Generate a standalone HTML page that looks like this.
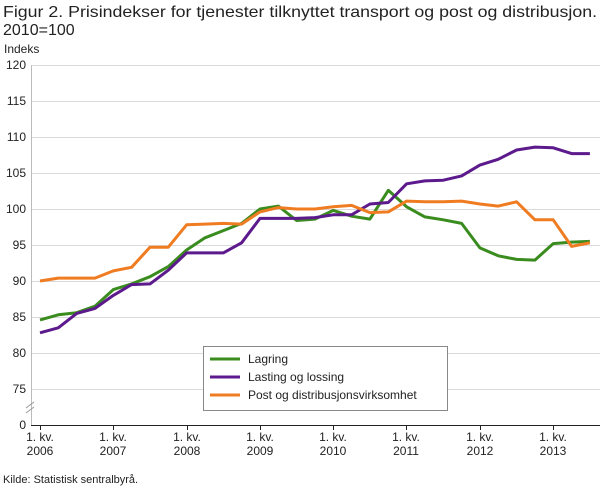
<!DOCTYPE html>
<html><head><meta charset="utf-8"><style>
body{margin:0;background:#fff;width:610px;height:488px;overflow:hidden;font-family:"Liberation Sans",sans-serif;}
</style></head><body>
<svg width="610" height="488" xmlns="http://www.w3.org/2000/svg" font-family="Liberation Sans, sans-serif">
<text x="3" y="17" font-size="16" fill="#222" textLength="594" lengthAdjust="spacingAndGlyphs">Figur 2. Prisindekser for tjenester tilknyttet transport og post og distribusjon.</text>
<text x="3" y="35" font-size="16" fill="#222">2010=100</text>
<text x="4" y="53" font-size="12" fill="#222">Indeks</text>
<g stroke="#d9d9d9" stroke-width="1">
<line x1="31" x2="600" y1="65.5" y2="65.5"/><line x1="31" x2="600" y1="101.5" y2="101.5"/>
<line x1="31" x2="600" y1="137.5" y2="137.5"/><line x1="31" x2="600" y1="173.5" y2="173.5"/>
<line x1="31" x2="600" y1="209.5" y2="209.5"/><line x1="31" x2="600" y1="245.5" y2="245.5"/>
<line x1="31" x2="600" y1="281.5" y2="281.5"/><line x1="31" x2="600" y1="317.5" y2="317.5"/>
<line x1="31" x2="600" y1="353.5" y2="353.5"/><line x1="31" x2="600" y1="389.5" y2="389.5"/>
</g>
<line x1="31" x2="600" y1="425.5" y2="425.5" stroke="#222"/>
<line x1="31.5" x2="31.5" y1="65" y2="425" stroke="#bbb"/>
<g stroke="#222"><line x1="40.5" x2="40.5" y1="425" y2="430"/><line x1="113.5" x2="113.5" y1="425" y2="430"/><line x1="187.5" x2="187.5" y1="425" y2="430"/><line x1="260.5" x2="260.5" y1="425" y2="430"/><line x1="333.5" x2="333.5" y1="425" y2="430"/><line x1="406.5" x2="406.5" y1="425" y2="430"/><line x1="480.5" x2="480.5" y1="425" y2="430"/><line x1="553.5" x2="553.5" y1="425" y2="430"/></g>
<g stroke="#999" stroke-width="1"><line x1="26" y1="408" x2="34" y2="402"/><line x1="26" y1="413" x2="34" y2="407"/></g>
<g font-size="12" fill="#222" text-anchor="end">
<text x="26" y="69">120</text><text x="26" y="105">115</text><text x="26" y="141">110</text><text x="26" y="177">105</text><text x="26" y="213">100</text><text x="26" y="249">95</text><text x="26" y="285">90</text><text x="26" y="321">85</text><text x="26" y="357">80</text><text x="26" y="393">75</text><text x="26" y="429">0</text>
</g>
<g font-size="12" fill="#222" text-anchor="middle">
<text x="40" y="441">1. kv.</text><text x="40" y="455">2006</text>
<text x="113" y="441">1. kv.</text><text x="113" y="455">2007</text>
<text x="187" y="441">1. kv.</text><text x="187" y="455">2008</text>
<text x="260" y="441">1. kv.</text><text x="260" y="455">2009</text>
<text x="333" y="441">1. kv.</text><text x="333" y="455">2010</text>
<text x="406" y="441">1. kv.</text><text x="406" y="455">2011</text>
<text x="480" y="441">1. kv.</text><text x="480" y="455">2012</text>
<text x="553" y="441">1. kv.</text><text x="553" y="455">2013</text>
</g>
<text x="3" y="483" font-size="11" fill="#222">Kilde: Statistisk sentralbyrå.</text>
<g id="lines" fill="none" stroke-width="3" stroke-linejoin="round"></g>
<rect x="203.5" y="346.5" width="244" height="64" fill="#fff" stroke="#888"/>
<line x1="210" x2="240" y1="359" y2="359" stroke="#3a8c1e" stroke-width="3"/>
<line x1="210" x2="240" y1="377" y2="377" stroke="#5c1a8c" stroke-width="3"/>
<line x1="210" x2="240" y1="395" y2="395" stroke="#f07c22" stroke-width="3"/>
<g font-size="12" fill="#222"><text x="248" y="363">Lagring</text><text x="248" y="381">Lasting og lossing</text><text x="248" y="399">Post og distribusjonsvirksomhet</text></g>
</svg>
<script>
var d={"#3a8c1e":[84.6,85.3,85.6,86.5,88.8,89.6,90.6,92.0,94.3,96.0,97.0,98.0,100.0,100.4,98.4,98.6,99.8,99.0,98.6,102.6,100.3,98.9,98.5,98.0,94.6,93.5,93.0,92.9,95.2,95.4,95.5],
"#5c1a8c":[82.8,83.5,85.5,86.2,88.0,89.5,89.6,91.5,93.9,93.9,93.9,95.3,98.7,98.7,98.7,98.8,99.2,99.2,100.7,100.9,103.5,103.9,104.0,104.6,106.1,106.9,108.2,108.6,108.5,107.7,107.7],
"#f07c22":[90.0,90.4,90.4,90.4,91.4,91.9,94.7,94.7,97.8,97.9,98.0,97.9,99.6,100.2,100.0,100.0,100.3,100.5,99.5,99.6,101.1,101.0,101.0,101.1,100.7,100.4,101.0,98.5,98.5,94.8,95.3]};
var g=document.getElementById("lines"),h="";
for(var c in d){var p=d[c].map(function(v,i){return (40+i*18.33).toFixed(1)+","+(65+(120-v)*7.2).toFixed(1)}).join(" ");
h+='<polyline stroke="'+c+'" points="'+p+'"/>';}
g.innerHTML=h;
</script>
</body></html>
